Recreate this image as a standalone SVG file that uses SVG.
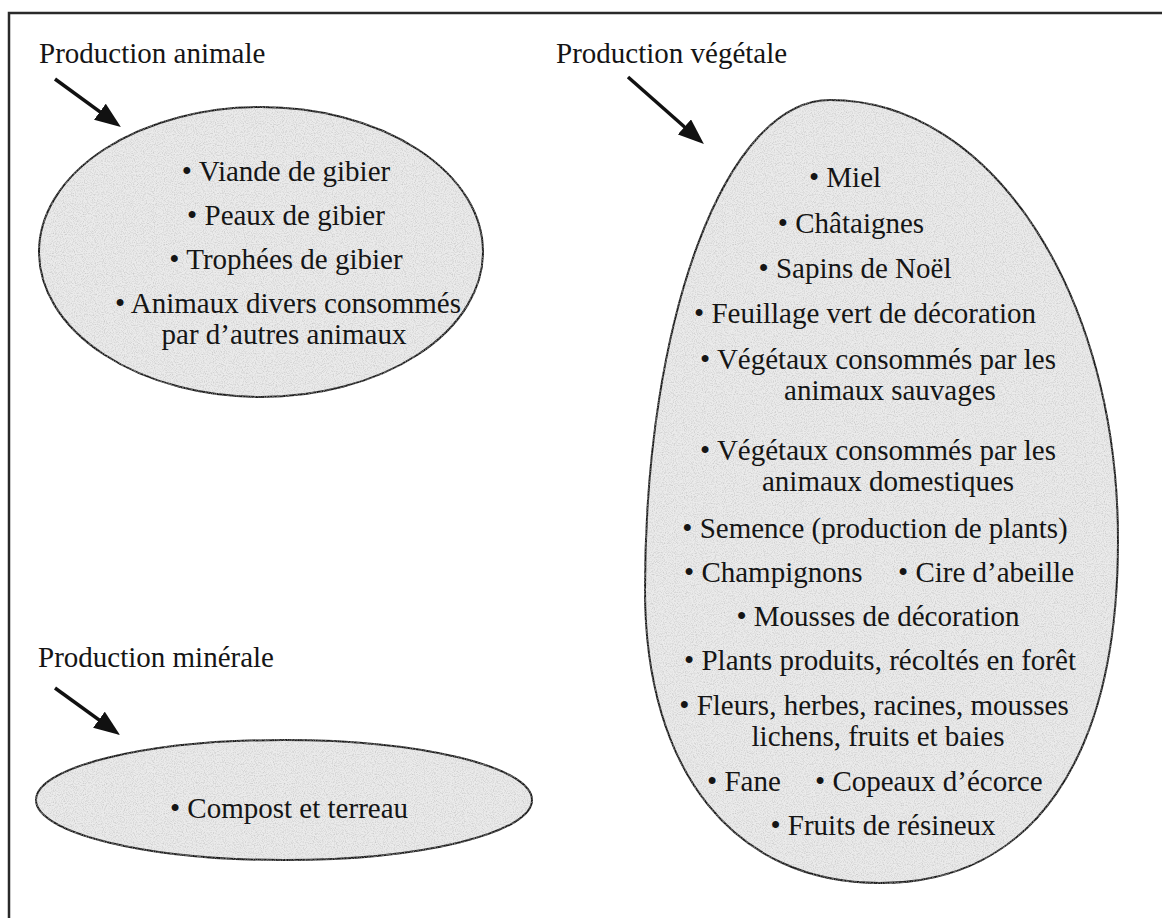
<svg xmlns="http://www.w3.org/2000/svg" width="1162" height="918" viewBox="0 0 1162 918">
<defs>
<style>
.frame{stroke:#2a2a2a;stroke-width:2.5;fill:none}
.blob{fill:#ebebeb;stroke:#1e1e1e;stroke-width:2}
.lbl{font-family:"Liberation Serif","Times New Roman",serif;font-size:29px;fill:#151515}
.txt{font-family:"Liberation Serif","Times New Roman",serif;font-size:29px;fill:#151515;text-anchor:middle}
.txs{font-family:"Liberation Serif","Times New Roman",serif;font-size:29px;fill:#151515}
.arr{stroke:#111;stroke-width:3.5;fill:none;stroke-linecap:butt}
</style>
<filter id="grain" x="-2%" y="-2%" width="104%" height="104%">
<feTurbulence type="fractalNoise" baseFrequency="0.9" numOctaves="2" seed="3" result="n"/>
<feColorMatrix in="n" type="matrix" values="0 0 0 0 0.4  0 0 0 0 0.4  0 0 0 0 0.4  0 0 0 1.2 -0.5" result="g"/>
<feComposite in="g" in2="SourceAlpha" operator="in" result="gi"/>
<feMerge><feMergeNode in="SourceGraphic"/><feMergeNode in="gi"/></feMerge>
</filter>
<marker id="head" viewBox="0 0 26 20" markerWidth="26" markerHeight="20" markerUnits="userSpaceOnUse" refX="18" refY="10" orient="auto">
<path d="M0,0 L26,10 L0,20 z" fill="#111"/>
</marker>
</defs>
<rect x="0" y="0" width="1162" height="918" fill="#ffffff"/>
<path class="frame" d="M9,918 L9,13 L1162,13"/>

<g id="connectors">
<line class="arr" x1="55" y1="79" x2="114.4" y2="122.4" marker-end="url(#head)"/>
<line class="arr" x1="628" y1="77" x2="697.9" y2="138.8" marker-end="url(#head)"/>
<line class="arr" x1="55" y1="688" x2="113.5" y2="730.3" marker-end="url(#head)"/>
</g>

<g id="animale">
<text class="lbl" x="39" y="63">Production animale</text>
<ellipse class="blob" cx="261" cy="252" rx="222" ry="145" filter="url(#grain)"/>
<text class="txt" x="286" y="181">• Viande de gibier</text>
<text class="txt" x="286" y="225">• Peaux de gibier</text>
<text class="txt" x="286" y="269">• Trophées de gibier</text>
<text class="txt" x="288" y="313">• Animaux divers consommés</text>
<text class="txt" x="284" y="344">par d’autres animaux</text>
</g>

<g id="vegetale">
<text class="lbl" x="556" y="63">Production végétale</text>
<path class="blob" filter="url(#grain)" d="M830,100 C991.3,100 1118,293.6 1118,540 C1118,759.5 1032.3,883 880,883 C734.3,883 645,771.7 645,590 C645,315.6 726.4,100 830,100 Z"/>
<text class="txt" x="845" y="187">• Miel</text>
<text class="txt" x="851" y="233">• Châtaignes</text>
<text class="txt" x="855" y="278">• Sapins de Noël</text>
<text class="txt" x="865" y="323">• Feuillage vert de décoration</text>
<text class="txt" x="878" y="369">• Végétaux consommés par les</text>
<text class="txt" x="890" y="400">animaux sauvages</text>
<text class="txt" x="878" y="460">• Végétaux consommés par les</text>
<text class="txt" x="888" y="491">animaux domestiques</text>
<text class="txt" x="875" y="538">• Semence (production de plants)</text>
<text class="txs" x="684" y="582">• Champignons</text>
<text class="txs" x="898" y="582">• Cire d’abeille</text>
<text class="txt" x="878" y="626">• Mousses de décoration</text>
<text class="txt" x="880" y="670">• Plants produits, récoltés en forêt</text>
<text class="txt" x="874" y="715">• Fleurs, herbes, racines, mousses</text>
<text class="txt" x="878" y="746">lichens, fruits et baies</text>
<text class="txs" x="707" y="791">• Fane</text>
<text class="txs" x="815" y="791">• Copeaux d’écorce</text>
<text class="txt" x="883" y="835">• Fruits de résineux</text>
</g>

<g id="minerale">
<text class="lbl" x="38" y="667">Production minérale</text>
<ellipse class="blob" cx="284" cy="800" rx="248" ry="60" filter="url(#grain)"/>
<text class="txt" x="289" y="818">• Compost et terreau</text>
</g>
</svg>
